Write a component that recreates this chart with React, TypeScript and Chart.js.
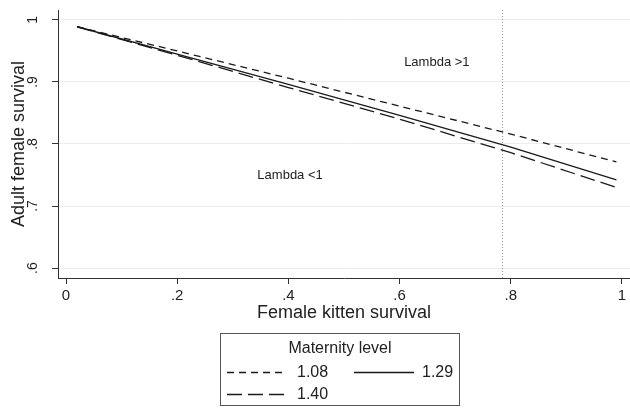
import { useEffect, useRef } from "react";
import { Chart, registerables } from "chart.js";

Chart.register(...registerables);

// ---- Data ----
const kittenSurvival = [0.02, 0.2, 0.4, 0.6, 0.8, 0.99];
const adultSurvival108 = [0.989, 0.95, 0.906, 0.861, 0.816, 0.771];
const adultSurvival129 = [0.989, 0.945, 0.896, 0.846, 0.795, 0.742];
const adultSurvival140 = [0.989, 0.943, 0.891, 0.84, 0.786, 0.73];
const maternityLevels = ["1.08", "1.29", "1.40"];
const xTickValues = [0, 0.2, 0.4, 0.6, 0.8, 1];
const yTickValues = [0.6, 0.7, 0.8, 0.9, 1];
const thresholdKittenSurvival = 0.785;
const xRange = [-0.0144, 1.0144];
const yRange = [0.584, 1.016];
const regionLabels = ["Lambda >1", "Lambda <1"];
const regionLabelX = [0.667, 0.403];
const regionLabelY = [0.932, 0.75];

const FONT = '"Liberation Sans", Arial, Helvetica, sans-serif';
const INK = "#1a1a1a";
const DASH_SHORT = [7, 5];
const DASH_LONG = [15, 6];

const fmt = (v: number) => {
  if (v === 0) return "0";
  if (v === 1) return "1";
  return v.toFixed(1).replace(/^0/, "");
};

const overlayPlugin = {
  id: "overlay",
  afterDraw(chart: any) {
    const ctx = chart.ctx as CanvasRenderingContext2D;
    const xs = chart.scales.x;
    const ys = chart.scales.y;
    ctx.save();
    // region labels
    ctx.fillStyle = "#222";
    ctx.font = `13px ${FONT}`;
    ctx.textAlign = "center";
    ctx.textBaseline = "middle";
    regionLabels.forEach((t, i) => {
      ctx.fillText(t, xs.getPixelForValue(regionLabelX[i]), ys.getPixelForValue(regionLabelY[i]));
    });

    // legend box
    ctx.strokeStyle = "#555";
    ctx.lineWidth = 1;
    ctx.setLineDash([]);
    ctx.strokeRect(220.5, 333.5, 239, 72);
    ctx.fillStyle = "#222";
    ctx.font = `16px ${FONT}`;
    ctx.textAlign = "center";
    ctx.fillText("Maternity level", 340, 349);

    const items = [
      { x0: 227, x1: 287, y: 372, dash: DASH_SHORT, tx: 297, label: maternityLevels[0] },
      { x0: 354, x1: 414, y: 372, dash: [], tx: 422, label: maternityLevels[1] },
      { x0: 227, x1: 286, y: 394, dash: DASH_LONG, tx: 297, label: maternityLevels[2] },
    ];
    items.forEach((it) => {
      ctx.strokeStyle = INK;
      ctx.lineWidth = 1.3;
      ctx.setLineDash(it.dash);
      ctx.beginPath();
      ctx.moveTo(it.x0, it.y + 0.5);
      ctx.lineTo(it.x1, it.y + 0.5);
      ctx.stroke();
      ctx.setLineDash([]);
      ctx.textAlign = "left";
      ctx.fillStyle = "#222";
      ctx.fillText(it.label, it.tx, it.y + 1);
    });
    ctx.restore();
  },
};

export default function App() {
  const ref = useRef<HTMLCanvasElement | null>(null);

  useEffect(() => {
    if (!ref.current) return;
    const mk = (ys: number[]) => kittenSurvival.map((x, i) => ({ x, y: ys[i] }));
    const chart = new Chart(ref.current, {
      type: "line",
      data: {
        datasets: [
          {
            label: "threshold",
            data: [
              { x: thresholdKittenSurvival, y: yRange[0] },
              { x: thresholdKittenSurvival, y: yRange[1] },
            ],
            borderColor: "#999",
            borderWidth: 1,
            borderDash: [1, 2],
            pointRadius: 0,
          },
          {
            label: maternityLevels[0],
            data: mk(adultSurvival108),
            borderColor: INK,
            borderWidth: 1.3,
            borderDash: DASH_SHORT,
            pointRadius: 0,
          },
          {
            label: maternityLevels[1],
            data: mk(adultSurvival129),
            borderColor: INK,
            borderWidth: 1.3,
            pointRadius: 0,
          },
          {
            label: maternityLevels[2],
            data: mk(adultSurvival140),
            borderColor: INK,
            borderWidth: 1.3,
            borderDash: DASH_LONG,
            pointRadius: 0,
          },
        ],
      },
      options: {
        animation: false,
        responsive: false,
        devicePixelRatio: 1,
        layout: { padding: { left: 0, right: 0, top: 10, bottom: 87 } },
        plugins: { legend: { display: false }, tooltip: { enabled: false } },
        scales: {
          x: {
            type: "linear",
            min: xRange[0],
            max: xRange[1],
            afterBuildTicks: (s: any) => {
              s.ticks = xTickValues.map((v) => ({ value: v }));
            },
            afterFit: (s: any) => {
              s.height = 46;
              s.paddingLeft = 0;
              s.paddingRight = 0;
            },
            ticks: {
              callback: (v: any) => fmt(Number(v)),
              font: { family: FONT, size: 15 },
              color: "#222",
              padding: 3,
              maxRotation: 0,
              autoSkip: false,
            },
            grid: {
              display: true,
              drawOnChartArea: false,
              drawTicks: true,
              tickLength: 6,
              tickColor: "#333",
            },
            border: { display: true, color: "#333", width: 1 },
            title: {
              display: true,
              text: "Female kitten survival",
              font: { family: FONT, size: 18 },
              color: "#222",
              padding: { top: 0, bottom: 0 },
            },
          },
          y: {
            type: "linear",
            min: yRange[0],
            max: yRange[1],
            afterBuildTicks: (s: any) => {
              s.ticks = yTickValues.map((v) => ({ value: v }));
            },
            afterFit: (s: any) => {
              s.width = 58;
              s.paddingTop = 0;
              s.paddingBottom = 0;
            },
            ticks: {
              callback: (v: any) => fmt(Number(v)),
              font: { family: FONT, size: 14 },
              color: "#222",
              padding: 13,
              minRotation: 90,
              maxRotation: 90,
              crossAlign: "center",
              autoSkip: false,
            },
            grid: {
              color: "#ececec",
              tickColor: "#333",
              tickLength: 6,
              drawTicks: true,
            },
            border: { display: true, color: "#333", width: 1 },
            title: {
              display: true,
              text: "Adult female survival",
              font: { family: FONT, size: 18 },
              color: "#222",
              padding: { top: 8, bottom: 0 },
            },
          },
        },
      },
      plugins: [overlayPlugin],
    } as any);
    return () => chart.destroy();
  }, []);

  return (
    <div style={{ position: "fixed", left: 0, top: 0, width: 630, height: 411, background: "#fff" }}>
      <canvas ref={ref} width={630} height={411} style={{ width: 630, height: 411, display: "block" }} />
    </div>
  );
}
